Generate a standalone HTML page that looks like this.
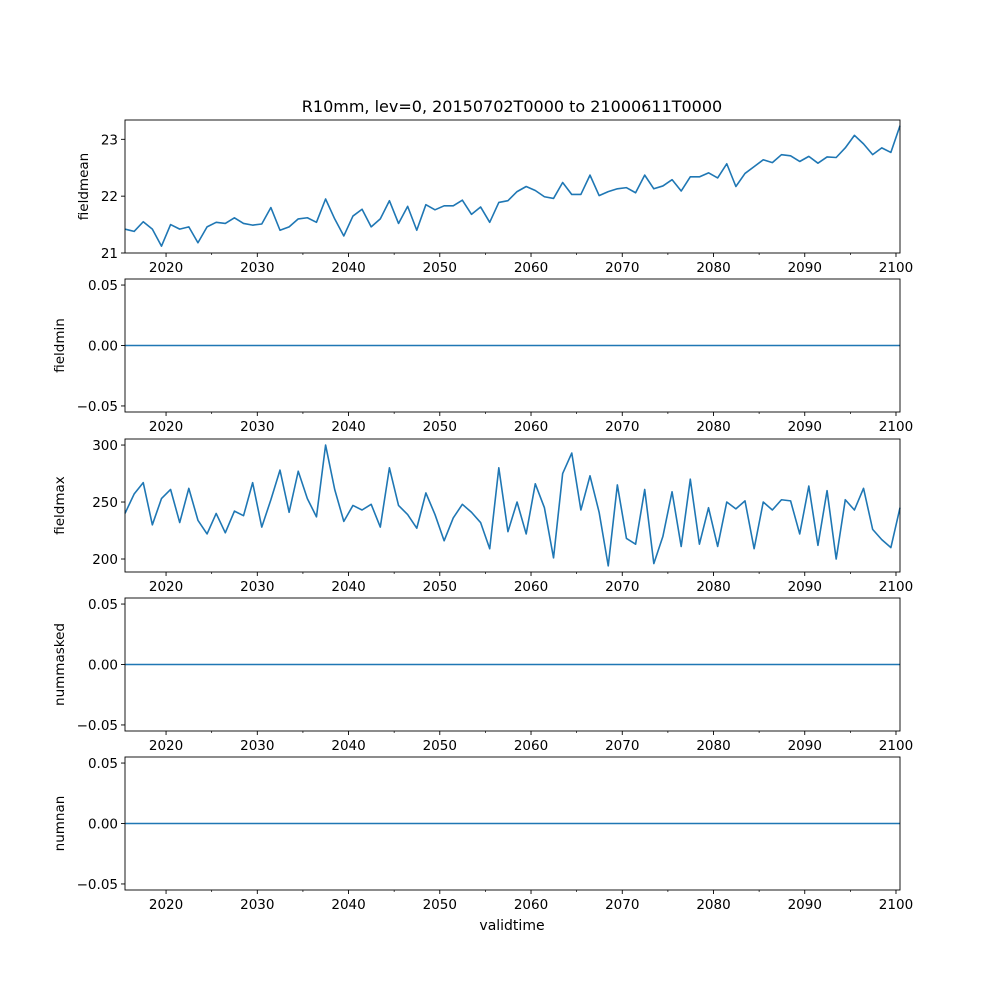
<!DOCTYPE html>
<html><head><meta charset="utf-8"><style>
body{margin:0;background:#fff}
svg{display:block;font-family:"DejaVu Sans","Liberation Sans",sans-serif}
</style></head><body>
<svg id="fig" width="1000" height="1000" viewBox="0 0 1000 1000" xmlns="http://www.w3.org/2000/svg">
<rect width="1000" height="1000" fill="#fff"/>
<text x="512" y="112" font-size="16" text-anchor="middle">R10mm, lev=0, 20150702T0000 to 21000611T0000</text>
<text x="512" y="930" font-size="14" text-anchor="middle">validtime</text>
</svg>
<script>
const fieldmean = [21.42,21.38,21.55,21.42,21.12,21.5,21.42,21.46,21.18,21.46,
21.54,21.52,21.62,21.52,21.49,21.51,21.8,21.4,21.46,21.6,
21.62,21.54,21.95,21.6,21.3,21.65,21.77,21.46,21.6,21.92,
21.52,21.82,21.4,21.85,21.76,21.83,21.83,21.93,21.68,21.81,
21.54,21.89,21.92,22.08,22.17,22.1,21.99,21.96,22.24,22.03,
22.03,22.37,22.01,22.08,22.13,22.15,22.06,22.37,22.13,22.18,
22.29,22.09,22.34,22.34,22.41,22.32,22.57,22.17,22.4,22.52,
22.64,22.59,22.73,22.71,22.61,22.7,22.58,22.69,22.68,22.85,
23.07,22.92,22.73,22.85,22.77,23.24];
const fieldmax = [240,257,267,230,253,261,232,262,234,222,
240,223,242,238,267,228,252,278,241,277,
253,237,300,261,233,247,243,248,228,280,
247,239,227,258,239,216,236,248,241,232,
209,280,224,250,222,266,245,201,275,293,
243,273,241,194,265,218,213,261,196,220,
259,211,270,213,245,211,250,244,251,209,
250,243,252,251,222,264,212,260,200,252,
243,262,226,217,210,245];
const fieldmin = fieldmean.map(()=>0);
const nummasked = fieldmean.map(()=>0);
const numnan = fieldmean.map(()=>0);
const xTicks = [2020,2030,2040,2050,2060,2070,2080,2090,2100];
const xMinorTicks = [2025,2035,2045,2055,2065,2075,2085,2095];
const meanTicks = [21,22,23];
const maxTicks = [200,250,300];
const zeroTicks = [-0.05,0.00,0.05];
const zeroTickLabels = ["\u22120.05","0.00","0.05"];

const NS="http://www.w3.org/2000/svg";
const svg=document.getElementById('fig');
const X0=125,X1=900,T0=2015.5,T1=2100.44;
const n=fieldmean.length;
function tAt(i){return T0+i*(T1-T0)/(n-1);}
function xs(t){return X0+(t-T0)/(T1-T0)*(X1-X0);}
function mk(tag,attrs){const e=document.createElementNS(NS,tag);for(const k in attrs)e.setAttribute(k,attrs[k]);svg.appendChild(e);return e;}

const panels=[
 {name:'fieldmean',data:fieldmean,top:120,lo:21.0,hi:23.34,ticks:meanTicks,labels:meanTicks.map(String)},
 {name:'fieldmin',data:fieldmin,top:279,lo:-0.055,hi:0.055,ticks:zeroTicks,labels:zeroTickLabels},
 {name:'fieldmax',data:fieldmax,top:439,lo:188.6,hi:305.3,ticks:maxTicks,labels:maxTicks.map(String)},
 {name:'nummasked',data:nummasked,top:598,lo:-0.055,hi:0.055,ticks:zeroTicks,labels:zeroTickLabels},
 {name:'numnan',data:numnan,top:757,lo:-0.055,hi:0.055,ticks:zeroTicks,labels:zeroTickLabels}
];
const H=133;
panels.forEach(p=>{
 const ys=v=>p.top+H-(v-p.lo)/(p.hi-p.lo)*H;
 let d='';
 p.data.forEach((v,i)=>{d+=(i?'L':'M')+xs(tAt(i)).toFixed(2)+' '+ys(v).toFixed(2);});
 const line=mk('path',{d:d,fill:'none',stroke:'#1f77b4','stroke-width':1.6,'stroke-linejoin':'round'});
 
 
 const fr=mk('rect',{x:X0,y:p.top,width:X1-X0,height:H,fill:'none',stroke:'#000','stroke-width':0.9});
 
 
 p.ticks.forEach((t,k)=>{
  const y=ys(t);
  mk('line',{x1:X0-4,x2:X0,y1:y,y2:y,stroke:'#000','stroke-width':0.9});
  const tx=mk('text',{x:X0-7,y:y+5,'font-size':13.5,'text-anchor':'end'});
  tx.textContent=p.labels[k];
  
  
 });
 const yl=mk('text',{x:0,y:0,'font-size':13.5,'text-anchor':'middle',transform:'translate('+(p.name==='fieldmean'?88:64)+','+(p.top+H/2)+') rotate(-90)'});
 yl.textContent=p.name;
 
 
 const by=p.top+H;
 xTicks.forEach(t=>{
  const x=xs(t);
  mk('line',{x1:x,x2:x,y1:by,y2:by+4,stroke:'#000','stroke-width':0.9});
  const tx=mk('text',{x:x,y:by+19,'font-size':13.5,'text-anchor':'middle'});
  tx.textContent=String(t);
  
  
 });
 xMinorTicks.forEach(t=>{
  const x=xs(t);
  mk('line',{x1:x,x2:x,y1:by,y2:by+2,stroke:'#000','stroke-width':0.7});
 });
});
</script>
</body></html>
